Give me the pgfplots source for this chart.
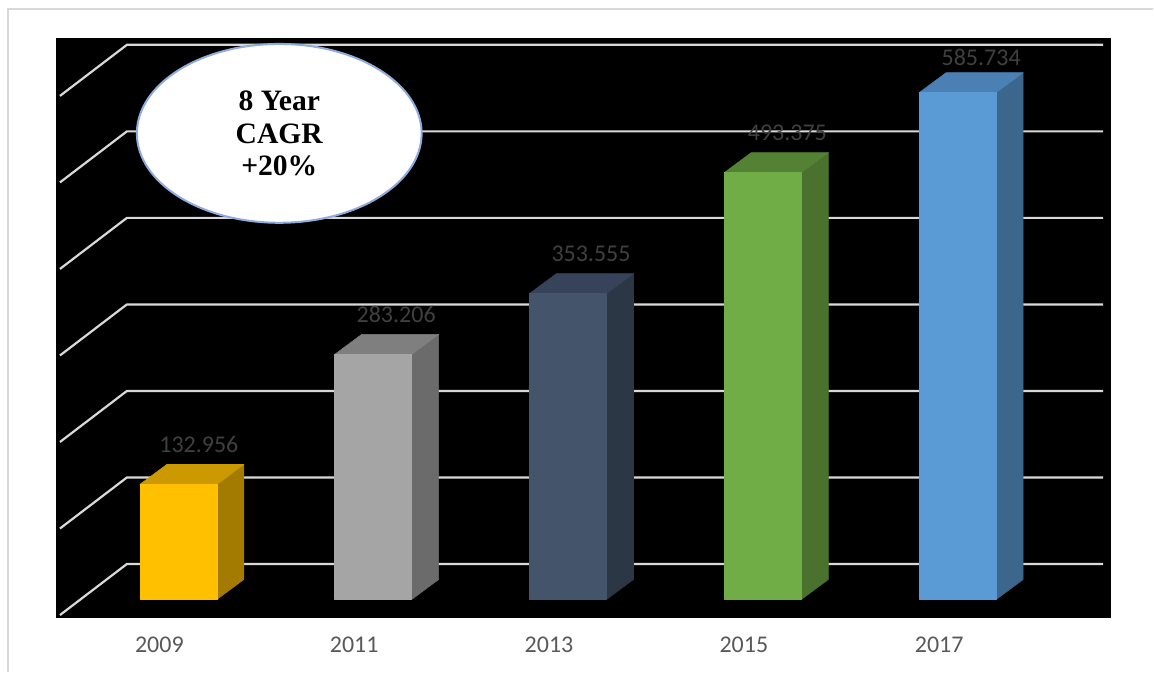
\documentclass[border=0pt]{standalone}
\usepackage{pgfplots}
\pgfplotsset{compat=1.18}
\usepackage{fontspec}
\setmainfont{Carlito}
\newfontfamily\tnr{Liberation Serif}
\usetikzlibrary{shapes.geometric}
\definecolor{gridc}{HTML}{D9D9D9}
\definecolor{framec}{HTML}{D9D9D9}
\definecolor{lblc}{HTML}{404040}
\definecolor{tickc}{HTML}{595959}
\definecolor{ellc}{HTML}{8FAADC}
\definecolor{yF}{HTML}{FFC000}\definecolor{yT}{HTML}{CC9A00}\definecolor{yS}{HTML}{A37B00}
\definecolor{gF}{HTML}{A5A5A5}\definecolor{gT}{HTML}{7F7F7F}\definecolor{gS}{HTML}{6B6B6B}
\definecolor{nF}{HTML}{44546A}\definecolor{nT}{HTML}{36435A}\definecolor{nS}{HTML}{2C3745}
\definecolor{lF}{HTML}{70AD47}\definecolor{lT}{HTML}{548235}\definecolor{lS}{HTML}{4A712E}
\definecolor{bF}{HTML}{5B9BD5}\definecolor{bT}{HTML}{4A80B4}\definecolor{bS}{HTML}{3C668C}
\tikzset{face/.style={fill=#1, draw=#1, line width=0.3pt, line join=round}}
\begin{document}
\begin{tikzpicture}
\path (0,0) rectangle (577pt,336.5pt);
\draw[framec, line width=1pt] (4pt,0) -- (4pt,331.75pt) -- (577pt,331.75pt);
\begin{axis}[
  at={(28pt,27pt)}, anchor=south west,
  scale only axis, width=528pt, height=290.65pt,
  xmin=56, xmax=1112, ymin=-21.94, ymax=649.3,
  axis background/.style={fill=black},
  axis line style={draw=none},
  ytick=\empty,
  xtick={159.5,354.5,549.5,744.5,940},
  xticklabels={2009,2011,2013,2015,2017},
  major tick length=0pt,
  xticklabel style={anchor=center, yshift=-13pt, font=\fontsize{12}{14}\selectfont, text=tickc},
  clip=false,
]
% back wall gridlines and left wall diagonals
\pgfplotsinvokeforeach{41,141,241,341,441,541,641}{
  \addplot[gridc, line width=1.1pt] coordinates {(60,#1-59) (127,#1) (1104,#1)};
}
% 2009
\addplot[face=yS] coordinates {(217,0) (244,23.1) (244,156.056) (217,132.956)} -- cycle;
\addplot[face=yT] coordinates {(140,132.956) (217,132.956) (244,156.056) (167,156.056)} -- cycle;
\addplot[face=yF] coordinates {(140,0) (217,0) (217,132.956) (140,132.956)} -- cycle;
% 2011
\addplot[face=gS] coordinates {(412,0) (439,23.1) (439,306.306) (412,283.206)} -- cycle;
\addplot[face=gT] coordinates {(335,283.206) (412,283.206) (439,306.306) (362,306.306)} -- cycle;
\addplot[face=gF] coordinates {(335,0) (412,0) (412,283.206) (335,283.206)} -- cycle;
% 2013
\addplot[face=nS] coordinates {(607,0) (634,23.1) (634,376.655) (607,353.555)} -- cycle;
\addplot[face=nT] coordinates {(530,353.555) (607,353.555) (634,376.655) (557,376.655)} -- cycle;
\addplot[face=nF] coordinates {(530,0) (607,0) (607,353.555) (530,353.555)} -- cycle;
% 2015
\addplot[face=lS] coordinates {(802,0) (829,23.1) (829,516.475) (802,493.375)} -- cycle;
\addplot[face=lT] coordinates {(725,493.375) (802,493.375) (829,516.475) (752,516.475)} -- cycle;
\addplot[face=lF] coordinates {(725,0) (802,0) (802,493.375) (725,493.375)} -- cycle;
% 2017
\addplot[face=bS] coordinates {(997,0) (1024,23.1) (1024,608.834) (997,585.734)} -- cycle;
\addplot[face=bT] coordinates {(920,585.734) (997,585.734) (1024,608.834) (947,608.834)} -- cycle;
\addplot[face=bF] coordinates {(920,0) (997,0) (997,585.734) (920,585.734)} -- cycle;
% value labels
\addplot[draw=none, mark=none, nodes near coords, point meta=explicit symbolic,
  every node near coord/.append style={anchor=center, text=lblc, font=\fontsize{12}{14}\selectfont}]
  coordinates {(199,179)[132.956] (396.5,329.2)[283.206] (591.5,399.6)[353.555] (788,539.4)[493.375] (982,626.4)[585.734]};
% CAGR ellipse
\node[ellipse, draw=ellc, line width=1pt, fill=white, minimum width=142.5pt, minimum height=89.5pt,
  inner sep=0pt, align=center, font=\tnr\bfseries\fontsize{14.8}{16.25}\selectfont]
  at (axis cs:279.5,538.7) {8 Year\\CAGR\\+20\%};
\end{axis}
\end{tikzpicture}
\end{document}
